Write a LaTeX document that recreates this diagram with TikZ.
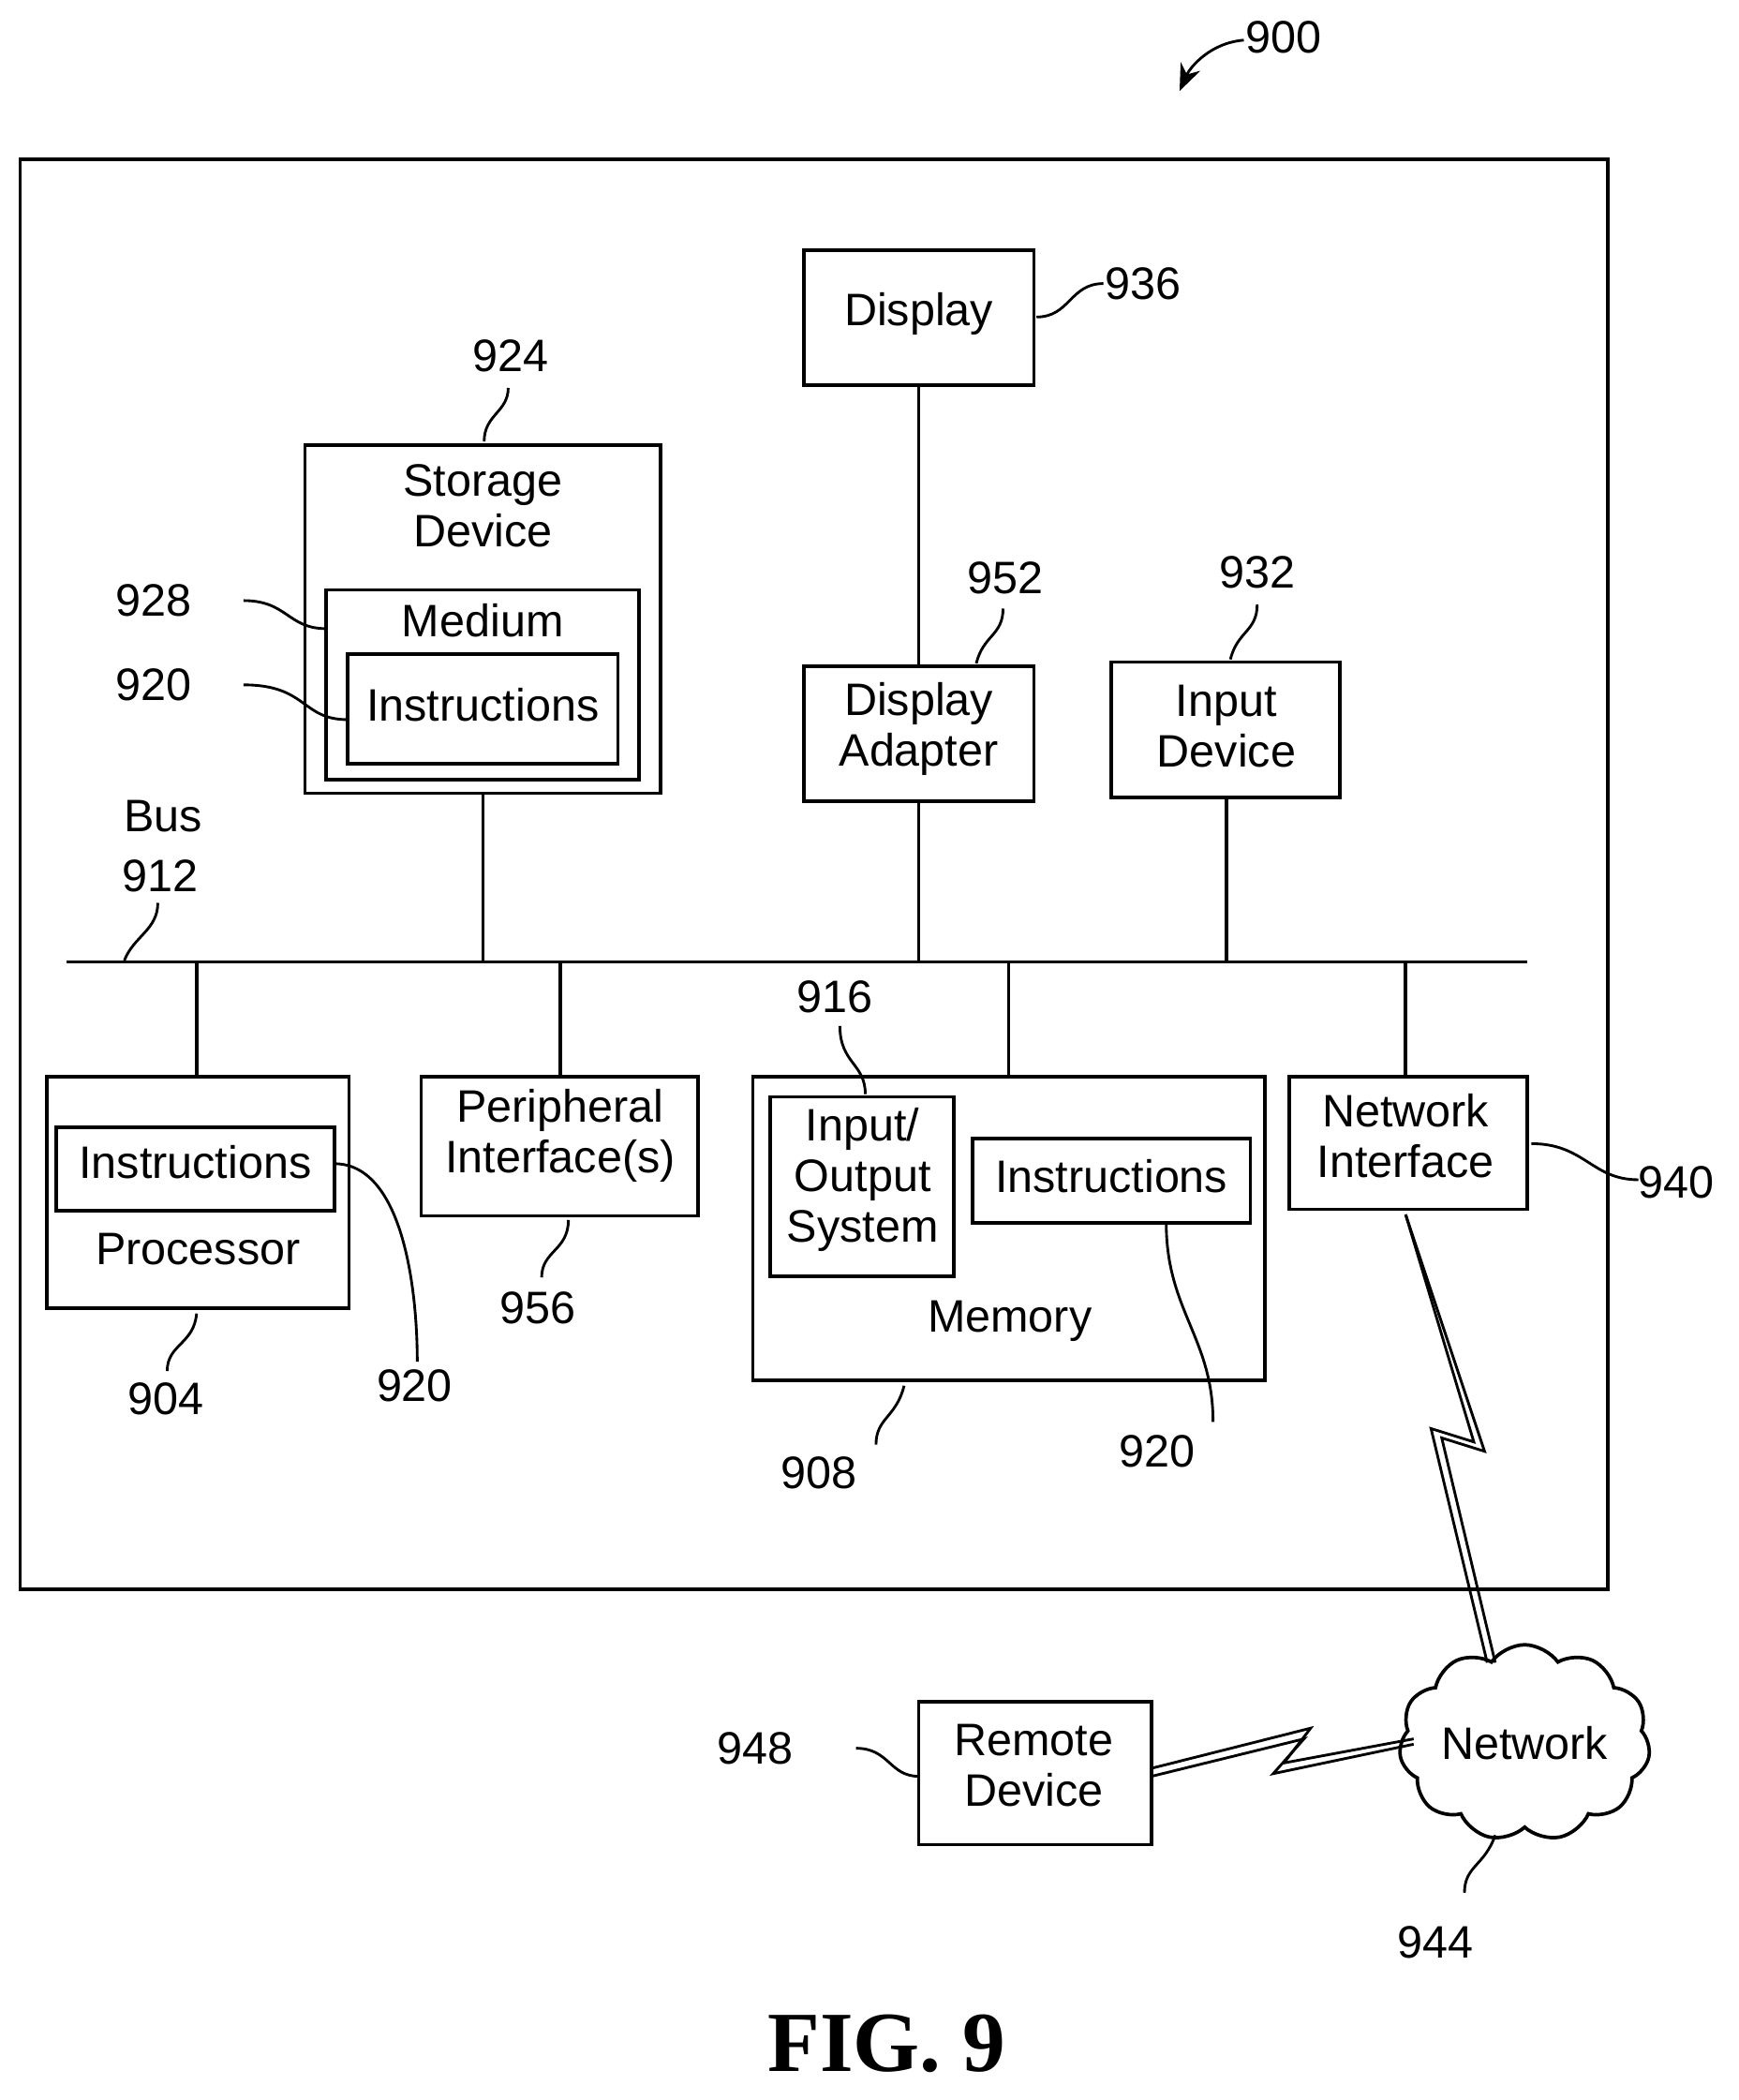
\documentclass[tikz,border=0pt]{standalone}
\usepackage{fontspec}
\setmainfont{Liberation Sans}
\newfontfamily\figfont{Liberation Serif}
\usetikzlibrary{shapes.symbols,arrows.meta}
\begin{document}
\begin{tikzpicture}[x=0.5pt,y=-0.5pt,line width=1.2pt,
  box/.style={draw,line width=1.3pt},
  txt/.style={font=\fontsize{17}{19}\selectfont,align=center,inner sep=0pt},
  lead/.style={line width=1pt}]
\useasboundingbox (0,0) rectangle (1300,1570);
\draw[box] (15,119) rectangle (1202,1188);
% Display
\draw[box] (601,187) rectangle (773,288); \node[txt] (disp) at (687,235) {Display};
\node[txt] (l936) at (855,212) {936};
\draw[lead] (775,237) .. controls (800,237) and (800,212) .. (825,212);
% Storage
\draw[box] (228,333) rectangle (494,593); \node[txt] (stor) at (361,378) {Storage\\Device};
\draw[box] (244,441) rectangle (478,583); \node[txt] (med) at (361,464) {Medium};
\draw[box] (260,489) rectangle (462,571); \node[txt] (sins) at (361,527) {Instructions};
\node[txt] (l924) at (382,266) {924};
\draw[lead] (362,330) .. controls (362,310) and (380,308) .. (380,290);
\node[txt] (l928) at (115,449) {928};
\draw[lead] (182,449) .. controls (215,449) and (215,470) .. (244,470);
\node[txt] (l920a) at (115,512) {920};
\draw[lead] (182,512) .. controls (230,512) and (225,538) .. (260,538);
% Display adapter
\draw[box] (601,498) rectangle (773,599); \node[txt] (dad) at (687,545) {Display\\Adapter};
\node[txt] (l952) at (752,432) {952};
\draw[lead] (730,496) .. controls (735,475) and (750,475) .. (750,455);
% Input device
\draw[box] (831,495) rectangle (1002,596); \node[txt] (inp) at (917,543) {Input\\Device};
\node[txt] (l932) at (940,428) {932};
\draw[lead] (920,493) .. controls (925,472) and (940,472) .. (940,452);
% Bus
\draw (50,719) -- (1142,719);
\node[txt] (bus) at (122,610) {Bus}; \node[txt] (l912) at (120,655) {912};
\draw[lead] (93,718) .. controls (100,700) and (118,695) .. (118,675);
\draw (361,593) -- (361,719); \draw (687,288) -- (687,498); \draw (687,599) -- (687,719);
\draw (917,596) -- (917,719);
\draw (147,719) -- (147,805); \draw (419,719) -- (419,805); \draw (754,719) -- (754,805); \draw (1051,719) -- (1051,805);
% Processor
\draw[box] (35,805) rectangle (261,978);
\draw[box] (42,843) rectangle (250,905); \node[txt] (pins) at (146,869) {Instructions};
\node[txt] (proc) at (148,934) {Processor};
\node[txt] (l904) at (124,1046) {904};
\draw[lead] (147,982) .. controls (145,1005) and (125,1005) .. (125,1025);
\node[txt] (l920b) at (310,1036) {920};
\draw[lead] (250,870) .. controls (300,870) and (312,960) .. (312,1018);
% Peripheral
\draw[box] (315,805) rectangle (522,909); \node[txt] (per) at (419,849) {Peripheral\\Interface(s)};
\node[txt] (l956) at (402,978) {956};
\draw[lead] (425,912) .. controls (425,935) and (405,935) .. (405,955);
% Memory
\draw[box] (563,805) rectangle (946,1032);
\draw[box] (576,820) rectangle (713,954); \node[txt] (io) at (645,882) {Input/\\Output\\System};
\draw[box] (727,851) rectangle (935,914); \node[txt] (mins) at (831,879) {Instructions};
\node[txt] (mem) at (755,988) {Memory};
\node[txt] (l916) at (624,745) {916};
\draw[lead] (628,767) .. controls (628,795) and (647,795) .. (647,818);
\node[txt] (l908) at (612,1101) {908};
\draw[lead] (676,1036) .. controls (670,1060) and (655,1060) .. (655,1080);
\node[txt] (l920c) at (865,1085) {920};
\draw[lead] (872,914) .. controls (872,980) and (907,1000) .. (907,1063);
% Network interface
\draw[box] (964,805) rectangle (1142,904); \node[txt] (ni) at (1051,849) {Network\\Interface};
\node[txt] (l940) at (1253,884) {940};
\draw[lead] (1145,855) .. controls (1185,855) and (1190,882) .. (1225,882);
% Network cloud
\node[cloud,draw,line width=1.3pt,cloud puffs=11,cloud puff arc=110,aspect=1.4,minimum width=170pt*0.5,minimum height=125pt*0.5,txt] (net) at (1140,1303) {Network};
\node[txt] (l944) at (1073,1452) {944};
\draw[lead] (1118,1372) .. controls (1110,1395) and (1095,1395) .. (1095,1415);
% lightning NI-network
\draw[line width=1pt,line join=miter] (1051,908) -- (1110,1085) -- (1078,1075) -- (1118,1243);
\draw[line width=1pt,line join=miter] (1051,908) -- (1102,1078) -- (1070,1068) -- (1112,1243);
% Remote device
\draw[box] (687,1272) rectangle (861,1379); \node[txt] (rem) at (773,1320) {Remote\\Device};
\node[txt] (l948) at (565,1307) {948};
\draw[lead] (640,1307) .. controls (665,1307) and (665,1328) .. (687,1328);
\draw[line width=1pt,line join=miter] (861,1322) -- (980,1292) -- (960,1318) -- (1057,1300);
\draw[line width=1pt,line join=miter] (861,1328) -- (975,1300) -- (952,1326) -- (1057,1304);
% 900
\node[txt] (l900) at (960,28) {900};
\draw[lead,-{Stealth[length=10pt,width=8pt]}] (930,30) .. controls (905,32) and (890,50) .. (882,68);
\node[inner sep=0pt,font=\figfont\bfseries\fontsize{32}{36}\selectfont] (fig) at (663,1528) {FIG. 9};
\end{tikzpicture}
\end{document}
